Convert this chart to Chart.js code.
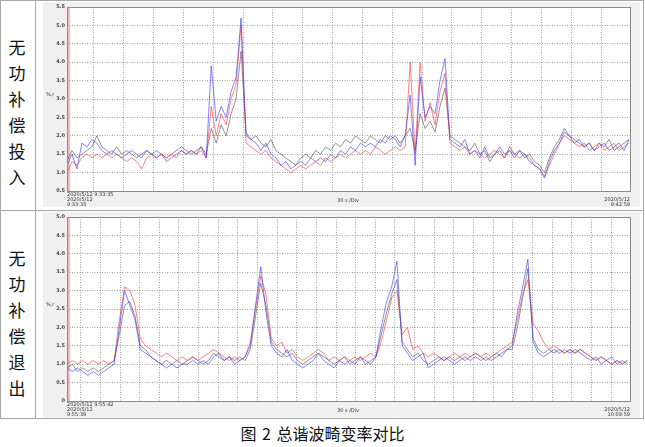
<!DOCTYPE html>
<html>
<head>
<meta charset="utf-8">
<script src="https://cdn.jsdelivr.net/npm/chart.js@4"></script>
<style>
  body { margin: 0; background: #fff; width: 645px; height: 447px; position: relative; overflow: hidden; font-family: "Noto Sans CJK SC", sans-serif; }
  .ln { position: absolute; background: #a8a8a8; }
  .panel { position: absolute; left: 43px; width: 597px; height: 205px; background: #f0f0f0; }
  .vt { position: absolute; left: 6px; width: 22px; font-size: 17px; line-height: 26px; text-align: center; color: #111; }
  .cap { position: absolute; left: 0; width: 645px; top: 421px; text-align: center; font-size: 16px; color: #111; word-spacing: 2px; }
  canvas { position: absolute; left: 0; top: 0; }
</style>
</head>
<body>
<div class="ln" style="left:0;top:0;width:644px;height:1px"></div>
<div class="ln" style="left:0;top:210px;width:644px;height:1px"></div>
<div class="ln" style="left:0;top:418px;width:644px;height:1px"></div>
<div class="ln" style="left:0;top:0;width:1px;height:419px"></div>
<div class="ln" style="left:35px;top:0;width:1px;height:419px"></div>
<div class="ln" style="left:643px;top:0;width:1px;height:419px"></div>
<div class="vt" style="top:34px">无<br>功<br>补<br>偿<br>投<br>入</div>
<div class="vt" style="top:245px">无<br>功<br>补<br>偿<br>退<br>出</div>
<div class="panel" style="top:2px"><canvas id="topChart" width="597" height="205"></canvas></div>
<div class="panel" style="top:212px"><canvas id="botChart" width="597" height="205"></canvas></div>
<div class="cap">图 2 总谐波畸变率对比</div>
<script>
// time in seconds after 9:33:00 (top) and 9:55:00 (bottom)
const topStart = 33, topEnd = 599, topStep = 5, topCursor = 35;
const botStart = 39, botEnd = 899, botStep = 8, botCursor = 42;

const topBlue = [1.2, 1.5, 1.1, 1.8, 1.7, 1.9, 1.8, 1.6, 1.5, 1.6,
  1.5, 1.4, 1.5, 1.6, 1.5, 1.4, 1.6, 1.5, 1.4, 1.5,
  1.3, 1.4, 1.5, 1.6, 1.5, 1.6, 1.5, 1.7, 1.4, 3.9,
  2.4, 2.8, 2.5, 3.2, 3.6, 5.2, 2.0, 1.9, 1.8, 1.6,
  1.8, 1.5, 1.4, 1.2, 1.3, 1.1, 1.2, 1.3, 1.2, 1.4,
  1.3, 1.4, 1.3, 1.5, 1.4, 1.6, 1.5, 1.7, 1.6, 1.8,
  1.7, 1.8, 1.7, 1.9, 1.8, 2.0, 1.9, 1.7, 2.0, 3.1,
  1.2, 3.6, 2.5, 2.8, 2.6, 3.5, 4.1, 1.9, 1.8, 1.7,
  1.9, 1.5, 1.6, 1.4, 1.7, 1.4, 1.5, 1.7, 1.5, 1.6,
  1.4, 1.6, 1.5, 1.3, 1.2, 1.1, 0.85, 1.3, 1.6, 1.8,
  2.1, 2.0, 1.9, 1.8, 1.7, 1.8, 1.6, 1.7, 1.8, 1.6,
  1.7, 1.8, 1.6, 1.9];
const topBlack = [1.3, 1.6, 1.4, 1.5, 1.6, 1.7, 2.0, 1.7, 1.6, 1.5,
  1.7, 1.5, 1.6, 1.5, 1.4, 1.5, 1.6, 1.5, 1.6, 1.5,
  1.4, 1.5, 1.6, 1.7, 1.6, 1.5, 1.6, 1.7, 1.5, 2.2,
  1.8, 2.3, 2.0, 2.6, 3.0, 4.3, 2.1, 1.9, 2.0, 1.8,
  1.7, 1.9, 1.6, 1.5, 1.4, 1.3, 1.2, 1.4, 1.5, 1.4,
  1.6, 1.5, 1.7, 1.6, 1.8, 1.7, 1.9, 1.8, 2.0, 1.9,
  1.8, 2.0, 1.9, 1.8, 2.0, 1.9, 2.0, 1.8, 2.0, 2.2,
  1.6, 2.6, 2.2, 2.4, 2.1, 2.8, 3.3, 2.0, 1.9, 1.8,
  1.7, 1.6, 1.8, 1.5, 1.6, 1.3, 1.5, 1.6, 1.4, 1.7,
  1.5, 1.6, 1.4, 1.5, 1.3, 1.2, 1.0, 1.4, 1.7, 1.9,
  2.2, 2.0, 1.8, 1.9, 1.7, 1.8, 1.6, 1.8, 1.7, 1.9,
  1.6, 1.7, 1.8, 1.9];
const topRed = [1.0, 1.3, 1.2, 1.4, 1.5, 1.4, 1.5, 1.4, 1.5, 1.4,
  1.5, 1.4, 1.3, 1.4, 1.3, 1.1, 1.4, 1.5, 1.4, 1.5,
  1.4, 1.5, 1.4, 1.6, 1.5, 1.6, 1.5, 1.6, 1.4, 2.8,
  2.0, 2.6, 2.3, 3.0, 3.4, 5.0, 1.8, 1.7, 1.6, 1.5,
  1.6, 1.4, 1.3, 1.2, 1.1, 1.0, 1.1, 1.2, 1.1, 1.2,
  1.3, 1.2, 1.4, 1.3, 1.4, 1.5, 1.4, 1.5, 1.6, 1.5,
  1.6, 1.5, 1.7, 1.6, 1.5, 1.6, 1.7, 1.6, 1.7, 4.0,
  1.5, 4.0, 2.4, 2.9, 2.3, 3.2, 3.7, 1.8, 1.7, 1.6,
  1.7, 1.5, 1.6, 1.5, 1.4, 1.5, 1.6, 1.5, 1.4, 1.6,
  1.5, 1.4, 1.5, 1.4, 1.2, 1.1, 0.9, 1.2, 1.5, 1.8,
  2.0, 1.9, 1.8, 1.7, 1.8, 1.6, 1.7, 1.8, 1.6, 1.7,
  1.8, 1.6, 1.7, 1.8];

const botBlue = [0.9, 0.8, 0.9, 0.8, 0.7, 0.8, 0.7, 0.8, 0.9, 1.0,
  2.0, 3.0, 2.6, 2.2, 1.4, 1.3, 1.2, 1.1, 1.0, 0.9,
  1.0, 0.9, 1.0, 1.0, 1.1, 1.0, 1.1, 1.0, 1.2, 1.3,
  1.1, 1.2, 1.0, 1.1, 1.2, 1.5, 2.6, 3.65, 2.4, 1.5,
  1.3, 1.2, 1.4, 1.1, 1.0, 0.9, 1.0, 1.1, 1.3, 1.1,
  1.0, 0.9, 1.1, 1.0, 1.1, 1.0, 1.2, 1.0, 1.1, 1.2,
  2.0, 2.7, 3.1, 3.8, 1.5, 1.3, 1.1, 1.2, 1.3, 0.9,
  1.0, 1.1, 1.2, 1.1, 1.0, 1.1, 1.2, 1.1, 1.2, 1.1,
  1.2, 1.1, 1.2, 1.3, 1.4, 1.5, 2.4, 3.1, 3.85, 1.6,
  1.3, 1.2, 1.3, 1.4, 1.3, 1.4, 1.3, 1.4, 1.3, 1.2,
  1.1, 1.2, 1.0, 1.1, 1.2, 1.0, 1.1, 1.0];
const botBlack = [0.9, 1.0, 0.8, 0.9, 0.8, 0.9, 0.8, 0.9, 1.0, 1.1,
  1.8, 2.6, 2.7, 2.3, 1.5, 1.4, 1.2, 1.1, 1.0, 1.1,
  1.0, 1.1, 1.0, 1.1, 1.2, 1.1, 1.0, 1.1, 1.3, 1.2,
  1.1, 1.2, 1.1, 1.2, 1.1, 1.4, 2.3, 3.2, 2.6, 1.6,
  1.4, 1.3, 1.2, 1.3, 1.1, 1.0, 1.1, 1.2, 1.3, 1.2,
  1.1, 1.0, 1.1, 1.2, 1.0, 1.1, 1.2, 1.1, 1.0, 1.2,
  1.8, 2.4, 2.9, 3.3, 1.6, 1.4, 1.2, 1.3, 1.1, 1.0,
  1.1, 1.2, 1.1, 1.2, 1.1, 1.2, 1.1, 1.2, 1.3, 1.2,
  1.1, 1.2, 1.3, 1.2, 1.4, 1.4, 2.0, 2.8, 3.6, 1.7,
  1.4, 1.3, 1.4, 1.3, 1.4, 1.3, 1.4, 1.3, 1.4, 1.3,
  1.2, 1.1, 1.2, 1.1, 1.0, 1.1, 1.0, 1.1];
const botRed = [1.0, 1.1, 1.0, 1.1, 1.0, 1.1, 1.0, 1.1, 1.0, 1.1,
  2.2, 3.1, 3.0, 2.6, 1.7, 1.5, 1.4, 1.3, 1.2, 1.3,
  1.2, 1.1, 1.2, 1.1, 1.2, 1.1, 1.2, 1.3, 1.4, 1.3,
  1.2, 1.1, 1.2, 1.1, 1.2, 1.6, 2.5, 3.4, 2.9, 1.7,
  1.5, 1.6, 1.3, 1.4, 1.2, 1.1, 1.2, 1.3, 1.4, 1.3,
  1.1, 1.2, 1.1, 1.2, 1.1, 1.2, 1.1, 1.2, 1.3, 1.2,
  1.6, 2.2, 2.8, 3.0, 1.8, 2.0, 1.4, 1.5, 1.3, 1.2,
  1.3, 1.2, 1.1, 1.2, 1.3, 1.2, 1.3, 1.2, 1.3, 1.2,
  1.3, 1.2, 1.3, 1.4, 1.5, 1.6, 2.2, 2.9, 3.3, 2.1,
  1.9, 1.6, 1.4, 1.5, 1.4, 1.3, 1.4, 1.3, 1.4, 1.3,
  1.2, 1.1, 1.2, 1.1, 1.0, 1.1, 1.0, 1.1];

const topLabels = ['2020/5/12 9:33:35', '2020/5/12', '9:33:33', '30 s /Div', '2020/5/12', '9:42:59'];
const botLabels = ['2020/5/12 9:55:42', '2020/5/12', '9:55:39', '30 s /Div', '2020/5/12', '10:09:59'];
const yTitle = '%,r';

function toPoints(values, start, step) {
    return values.map((v, i) => ({ x: start + i * step, y: v }));
}

// white plot area, frame, y title and the time texts under the plot
const panelText = {
    id: 'panelText',
    beforeDraw(chart) {
        const a = chart.chartArea;
        chart.ctx.save();
        chart.ctx.fillStyle = '#fff';
        chart.ctx.fillRect(a.left, a.top, a.right - a.left, a.bottom - a.top);
        chart.ctx.restore();
    },
    afterDraw(chart, args, opts) {
        const ctx = chart.ctx;
        const a = chart.chartArea;
        const t = opts.texts;
        ctx.save();
        ctx.strokeStyle = '#8a8a8a';
        ctx.lineWidth = 1;
        ctx.strokeRect(Math.round(a.left) + 0.5, Math.round(a.top) + 0.5, Math.round(a.right - a.left), Math.round(a.bottom - a.top));
        ctx.fillStyle = '#333';
        ctx.font = '5px "DejaVu Sans"';
        ctx.textBaseline = 'middle';
        ctx.textAlign = 'left';
        ctx.fillText(yTitle, 3, 93);
        ctx.fillText(t[0], a.left, a.bottom + 3.5);
        ctx.fillText(t[1], a.left, a.bottom + 9);
        ctx.fillText(t[2], a.left, a.bottom + 14);
        ctx.textAlign = 'center';
        ctx.fillText(t[3], 305, a.bottom + 10);
        ctx.textAlign = 'right';
        ctx.fillText(t[4], a.right, a.bottom + 9);
        ctx.fillText(t[5], a.right, a.bottom + 14);
        ctx.restore();
    }
};

function makeChart(id, blue, red, black, start, end, step, cursor, yMin, yMax, texts) {
    const line = (data, color) => ({
        data: toPoints(data, start, step),
        borderColor: color,
        borderWidth: 1,
        pointRadius: 0,
        tension: 0
    });
    new Chart(document.getElementById(id), {
        type: 'line',
        data: {
            datasets: [
                line(blue, 'rgba(50,50,255,0.6)'),
                line(red, 'rgba(255,50,50,0.6)'),
                line(black, 'rgba(60,60,60,0.55)'),
                {
                    data: [{ x: cursor, y: yMin }, { x: cursor, y: yMax }],
                    borderColor: 'rgba(255,110,110,0.5)',
                    borderWidth: 2,
                    pointRadius: 0
                }
            ]
        },
        options: {
            responsive: false,
            animation: false,
            devicePixelRatio: 1,
            layout: { padding: { top: 3, right: 10, bottom: 16, left: 0 } },
            plugins: {
                legend: { display: false },
                tooltip: { enabled: false },
                panelText: { texts: texts }
            },
            scales: {
                x: {
                    type: 'linear',
                    min: start,
                    max: end,
                    afterFit: s => { s.height = 0; },
                    ticks: { display: false, stepSize: 30, includeBounds: false },
                    grid: { color: '#a0a0a0', drawTicks: false },
                    border: { display: false, dash: [1, 1.5] }
                },
                y: {
                    min: yMin,
                    max: yMax,
                    afterFit: s => { s.width = 24; },
                    ticks: {
                        stepSize: 0.5,
                        padding: 2,
                        color: '#444',
                        font: { size: 5, family: 'DejaVu Sans', weight: 'bold' },
                        callback: v => v === 0 ? '0' : v.toFixed(1)
                    },
                    grid: { color: '#a0a0a0', drawTicks: false },
                    border: { display: false, dash: [1, 1.5] }
                }
            }
        },
        plugins: [panelText]
    });
}

makeChart('topChart', topBlue, topRed, topBlack, topStart, topEnd, topStep, topCursor, 0.5, 5.5, topLabels);
makeChart('botChart', botBlue, botRed, botBlack, botStart, botEnd, botStep, botCursor, 0, 5.0, botLabels);
</script>
</body>
</html>
